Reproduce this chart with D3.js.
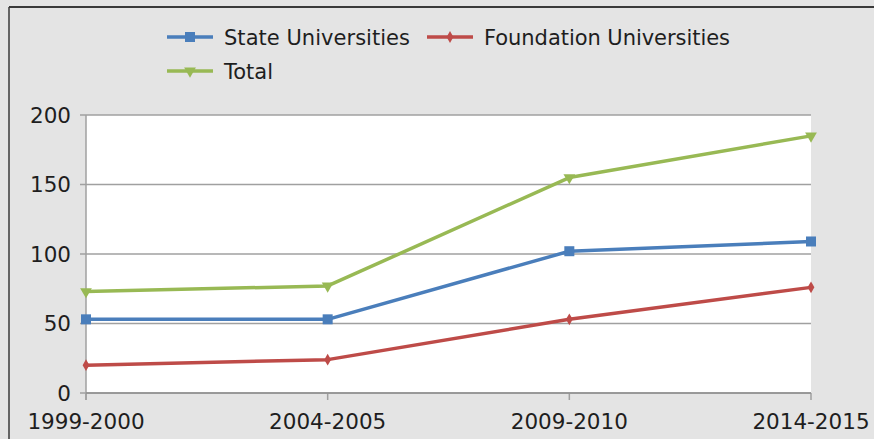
<!DOCTYPE html>
<html><head><meta charset="utf-8">
<script src="https://cdn.jsdelivr.net/npm/d3@7"></script>
<style>html,body{margin:0;padding:0;background:#fff}svg{display:block}</style>
</head><body>
<script>
const categories = ["1999-2000","2004-2005","2009-2010","2014-2015"];
const stateVals = [53, 53, 102, 109];
const foundationVals = [20, 24, 53, 76];
const totalVals = [73, 77, 155, 185];
const yTicks = [0, 50, 100, 150, 200];
const seriesNames = ["State Universities","Foundation Universities","Total"];

const W = 874, H = 439;
const svg = d3.select("body").append("svg").attr("width", W).attr("height", H);
svg.append("rect").attr("x",0).attr("y",0).attr("width",W).attr("height",H).attr("fill","#e4e4e4");
svg.append("line").attr("x1",9).attr("x2",W).attr("y1",7).attr("y2",7).attr("stroke","#3a3a3a").attr("stroke-width",2);
svg.append("line").attr("x1",9).attr("x2",9).attr("y1",7).attr("y2",H).attr("stroke","#3a3a3a").attr("stroke-width",1.5);

const pLeft = 86, pRight = 811, pTop = 115, pBottom = 393;
const x = d3.scalePoint().domain(categories).range([pLeft, pRight]);
const y = d3.scaleLinear().domain([0, 200]).range([pBottom, pTop]);

svg.append("rect").attr("x",pLeft).attr("y",pTop).attr("width",pRight-pLeft).attr("height",pBottom-pTop).attr("fill","#ffffff");

const font = "'DejaVu Sans', sans-serif";
// grid
svg.append("g").selectAll("line").data(yTicks).join("line")
  .attr("x1", pLeft-6).attr("x2", pRight).attr("y1", d=>y(d)).attr("y2", d=>y(d))
  .attr("stroke", "#a0a0a0").attr("stroke-width", 1.5);
// y axis line
svg.append("line").attr("x1",pLeft).attr("x2",pLeft).attr("y1",pTop).attr("y2",pBottom+7).attr("stroke","#a0a0a0").attr("stroke-width",1.5);
// x ticks
svg.append("g").selectAll("line").data(categories).join("line")
  .attr("x1", d=>x(d)).attr("x2", d=>x(d)).attr("y1", pBottom).attr("y2", pBottom+7)
  .attr("stroke", "#a0a0a0").attr("stroke-width", 1.5);
svg.append("line").attr("x1",pLeft).attr("x2",pRight).attr("y1",pBottom).attr("y2",pBottom).attr("stroke","#909090").attr("stroke-width",1.5);

svg.append("g").selectAll("text").data(yTicks).join("text")
  .attr("x", 71).attr("y", d=>y(d)).attr("dy","0.36em").attr("text-anchor","end")
  .attr("font-family", font).attr("font-size", 21.5).attr("fill","#1e1e1e").text(d=>d);
svg.append("g").selectAll("text").data(categories).join("text")
  .attr("x", d=>x(d)).attr("y", 429).attr("text-anchor","middle")
  .attr("font-family", font).attr("font-size", 21.5).attr("fill","#1e1e1e").text(d=>d);

const colors = ["#4a7ebb", "#be4b48", "#98b954"];
const data = [stateVals, foundationVals, totalVals];
const line = d3.line().x((d,i)=>x(categories[i])).y(d=>y(d));

function marker(g, type, color, cx, cy) {
  if (type === 0) {
    g.append("rect").attr("x",cx-5).attr("y",cy-5).attr("width",10).attr("height",10).attr("fill",color);
  } else if (type === 1) {
    g.append("path").attr("d", d3.symbol(d3.symbolDiamond, 40)()).attr("transform",`translate(${cx},${cy})`).attr("fill",color);
  } else {
    g.append("path").attr("d", d3.symbol(d3.symbolTriangle, 60)()).attr("transform",`translate(${cx},${cy}) rotate(180)`).attr("fill",color);
  }
}

data.forEach((vals, s) => {
  const g = svg.append("g");
  g.append("path").datum(vals).attr("d", line).attr("fill","none").attr("stroke",colors[s]).attr("stroke-width",3.5).attr("stroke-linejoin","round");
  vals.forEach((v,i)=> marker(g, s, colors[s], x(categories[i]), y(v)));
});

// legend
const legendPos = [[167,37],[427,37],[167,71]];
seriesNames.forEach((name, s) => {
  const [lx, ly] = legendPos[s];
  const g = svg.append("g");
  g.append("line").attr("x1",lx).attr("x2",lx+46).attr("y1",ly).attr("y2",ly).attr("stroke",colors[s]).attr("stroke-width",3.5);
  marker(g, s, colors[s], lx+23, ly);
  g.append("text").attr("x", lx+57).attr("y", ly).attr("dy","0.36em")
    .attr("font-family", font).attr("font-size", 21).attr("fill","#1e1e1e")
    .attr("textLength", s===0 ? 186 : (s===1 ? 246 : null))
    .text(name);
});
</script>
</body></html>
